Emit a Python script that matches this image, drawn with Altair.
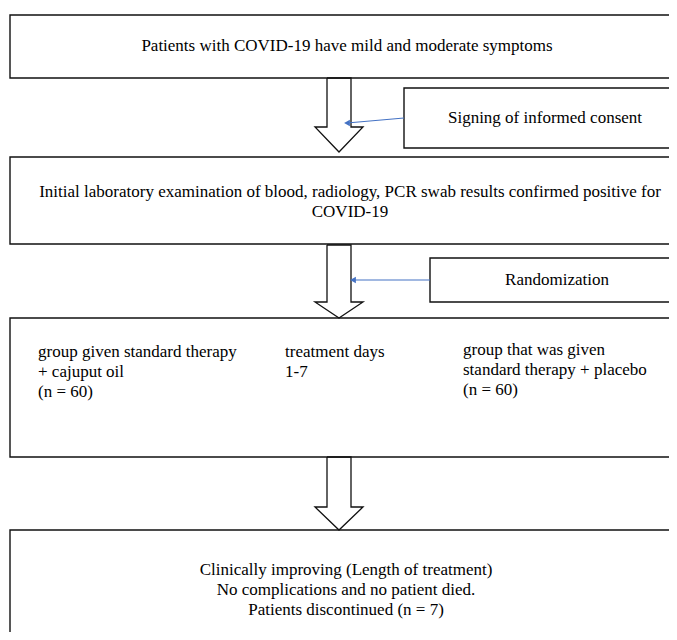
import altair as alt
import pandas as pd

# ---- boxes (page pixel coordinates) ----
box_id = ["b1", "b2", "b3", "b4", "consent", "random"]
box_x = [10, 10, 10, 10, 404, 430]
box_x2 = [684, 684, 684, 684, 684, 684]
box_y = [15, 157, 318, 530, 88, 258]
box_y2 = [78, 244, 457, 700, 148, 302]

# ---- block arrows ----
arrow_top = [78, 245, 457]
arrow_head = [127, 302, 507]
arrow_tip = [152, 318, 530]
shaft_left, shaft_right = 327, 351
head_left, head_right, tip_x = 315, 363, 339

# ---- blue connectors ----
conn_x = [404, 430]
conn_y = [118, 280]
conn_x2 = [347, 353]
conn_y2 = [123, 280]

# ---- texts ----
texts = [
    "Patients with COVID-19 have mild and moderate symptoms",
    "Signing of informed consent",
    "Initial laboratory examination of blood, radiology, PCR swab results confirmed positive for",
    "COVID-19",
    "Randomization",
    "group given standard therapy",
    "+ cajuput oil",
    "(n = 60)",
    "treatment days",
    "1-7",
    "group that was given",
    "standard therapy + placebo",
    "(n = 60)",
    "Clinically improving (Length of treatment)",
    "No complications and no patient died.",
    "Patients discontinued (n = 7)",
]
text_x = [347, 545, 350, 350, 557, 38, 38, 38, 285, 285, 463, 463, 463, 346, 346, 346]
text_y = [46, 118, 192, 212, 280, 352, 372, 392, 352, 372, 350, 370, 390, 570, 590, 610]
text_align = ["center", "center", "center", "center", "center",
              "left", "left", "left", "left", "left", "left", "left", "left",
              "center", "center", "center"]

boxes = pd.DataFrame({"id": box_id, "x": box_x, "x2": box_x2, "y": box_y, "y2": box_y2})

rows = []
for i, (t, h, tip) in enumerate(zip(arrow_top, arrow_head, arrow_tip)):
    pts = [(shaft_left, t), (shaft_right, t), (shaft_right, h), (head_right, h),
           (tip_x, tip), (head_left, h), (shaft_left, h), (shaft_left, t)]
    for k, (px, py) in enumerate(pts):
        rows.append({"arrow": f"a{i}", "o": k, "x": px, "y": py})
arrows = pd.DataFrame(rows)

conns = pd.DataFrame({"x": conn_x, "y": conn_y, "x2": conn_x2, "y2": conn_y2})
tdf = pd.DataFrame({"t": texts, "x": text_x, "y": text_y, "a": text_align})

W, H = 661, 624
xs = alt.Scale(domain=[8, 8 + W])
ys = alt.Scale(domain=[8, 8 + H], reverse=True)
X = lambda f: alt.X(f, type="quantitative", scale=xs, axis=None)
Y = lambda f: alt.Y(f, type="quantitative", scale=ys, axis=None)

rects = alt.Chart(boxes).mark_rect(fill="white", stroke="#111111", strokeWidth=1.4, clip=True).encode(
    x=X("x"), x2="x2", y=Y("y"), y2="y2"
)

arrow_lines = alt.Chart(arrows).mark_line(color="#111111", strokeWidth=1.3, clip=True).encode(
    x=X("x"), y=Y("y"), order="o:Q", detail="arrow:N"
)

conn_lines = alt.Chart(conns).mark_rule(color="#4472C4", strokeWidth=1.2).encode(
    x=X("x"), x2="x2", y=Y("y"), y2="y2"
)
conn_heads = alt.Chart(conns).mark_point(shape="triangle-left", filled=True, color="#4472C4",
                                         size=45, opacity=1).encode(
    x=X("x2"), y=Y("y2")
)

def text_layer(align):
    d = tdf[tdf["a"] == align]
    return alt.Chart(d).mark_text(font="Liberation Serif", fontSize=17, color="black",
                                  align=align, baseline="middle").encode(
        x=X("x"), y=Y("y"), text="t:N"
    )

chart = alt.layer(rects, arrow_lines, conn_lines, conn_heads,
                  text_layer("center"), text_layer("left")).properties(
    width=W, height=H, padding=0, autosize=alt.AutoSizeParams(type="none")
).configure_view(stroke=None)

chart.save("out.html", embed_options={"renderer": "svg", "actions": False})
